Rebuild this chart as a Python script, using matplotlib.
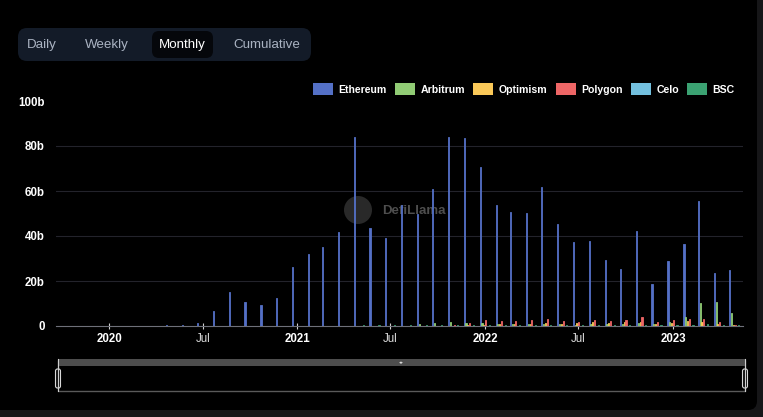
import matplotlib
matplotlib.use("Agg")
import matplotlib.pyplot as plt
import matplotlib.dates as mdates
from matplotlib.patches import FancyBboxPatch, Rectangle, Circle
import numpy as np
import datetime as dt

plt.rcParams['font.family'] = ['Liberation Sans', 'DejaVu Sans']

# ---------------- data (billions USD, monthly) ----------------
months = ["2019-10", "2019-11", "2019-12",
          "2020-01", "2020-02", "2020-03", "2020-04", "2020-05", "2020-06",
          "2020-07", "2020-08", "2020-09", "2020-10", "2020-11", "2020-12",
          "2021-01", "2021-02", "2021-03", "2021-04", "2021-05", "2021-06",
          "2021-07", "2021-08", "2021-09", "2021-10", "2021-11", "2021-12",
          "2022-01", "2022-02", "2022-03", "2022-04", "2022-05", "2022-06",
          "2022-07", "2022-08", "2022-09", "2022-10", "2022-11", "2022-12",
          "2023-01", "2023-02", "2023-03", "2023-04", "2023-05"]

ethereum = [0.05, 0.05, 0.06,
            0.08, 0.10, 0.12, 0.15, 0.30, 0.50,
            1.3, 6.6, 15.0, 10.8, 9.3, 12.3,
            26.1, 31.9, 35.1, 41.6, 83.9, 43.4,
            39.0, 53.8, 50.0, 60.9, 83.9, 83.7,
            70.5, 53.8, 50.8, 50.4, 61.6, 45.3,
            37.2, 37.9, 29.3, 25.2, 42.1, 18.5,
            29.0, 36.3, 55.6, 23.6, 24.9]

arbitrum = [0, 0, 0,
            0, 0, 0, 0, 0, 0,
            0, 0, 0, 0, 0, 0,
            0, 0, 0, 0, 0, 0,
            0, 0.1, 0.8, 1.2, 2.0, 1.5,
            1.3, 1.0, 0.9, 0.8, 0.9, 0.7,
            0.6, 0.8, 0.7, 0.7, 1.5, 0.9,
            1.9, 4.0, 10.3, 10.6, 5.6]

optimism = [0, 0, 0,
            0, 0, 0, 0, 0, 0,
            0, 0, 0, 0, 0, 0,
            0, 0, 0, 0, 0, 0,
            0, 0, 0, 0.1, 0.2, 0.3,
            0.5, 0.8, 0.8, 1.0, 1.2, 1.0,
            1.3, 1.6, 1.4, 1.8, 1.9, 1.0,
            1.4, 2.2, 1.7, 0.9, 0.5]

polygon = [0, 0, 0,
           0, 0, 0, 0, 0, 0,
           0, 0, 0, 0, 0, 0,
           0, 0, 0, 0, 0, 0,
           0, 0, 0, 0.2, 0.4, 1.5,
           2.6, 2.4, 2.2, 2.5, 2.9, 2.4,
           2.0, 2.5, 2.3, 2.6, 4.1, 1.6,
           2.5, 3.2, 3.0, 1.8, 0.6]

celo = [0, 0, 0,
        0, 0, 0, 0, 0, 0,
        0, 0, 0, 0, 0, 0,
        0, 0, 0, 0, 0, 0.05,
        0.05, 0.05, 0.1, 0.1, 0.1, 0.1,
        0.1, 0.1, 0.1, 0.1, 0.1, 0.1,
        0.1, 0.1, 0.1, 0.1, 0.1, 0.1,
        0.1, 0.1, 0.1, 0.1, 0.05]

bsc = [0, 0, 0,
       0, 0, 0, 0, 0, 0,
       0, 0, 0, 0, 0, 0,
       0, 0, 0, 0.2, 0.5, 0.3,
       0.3, 0.3, 0.4, 0.4, 0.5, 0.5,
       0.5, 0.4, 0.4, 0.4, 0.5, 0.4,
       0.4, 0.5, 0.4, 0.4, 0.6, 0.4,
       0.5, 0.6, 0.7, 0.5, 0.3]

series_names = ["Ethereum", "Arbitrum", "Optimism", "Polygon", "Celo", "BSC"]
series_values = [ethereum, arbitrum, optimism, polygon, celo, bsc]
colors = ["#5470c6", "#91cc75", "#fac858", "#ee6666", "#73c0de", "#3ba272"]

y_ticks = [0, 20, 40, 60, 80, 100]
y_tick_labels = ["0", "20b", "40b", "60b", "80b", "100b"]
x_tick_dates = ["2020-01-01", "2020-07-01", "2021-01-01", "2021-07-01",
                "2022-01-01", "2022-07-01", "2023-01-01"]
x_tick_labels = ["2020", "Jul", "2021", "Jul", "2022", "Jul", "2023"]
buttons = ["Daily", "Weekly", "Monthly", "Cumulative"]

# ---------------- figure ----------------
W, H = 763, 417
fig = plt.figure(figsize=(W / 100, H / 100), dpi=100)
fig.patch.set_facecolor("#161618")

# overlay in pixel coordinates for page furniture
ov = fig.add_axes([0, 0, 1, 1], zorder=0)
ov.set_xlim(0, W)
ov.set_ylim(H, 0)
ov.axis("off")
ov.add_patch(FancyBboxPatch((-20, -20), 777, 430, boxstyle="round,pad=0,rounding_size=9",
                            fc="#000000", ec="none"))

# button bar
ov.add_patch(FancyBboxPatch((18, 28), 293, 33, boxstyle="round,pad=0,rounding_size=9",
                            fc="#131b28", ec="none"))
ov.add_patch(FancyBboxPatch((152, 31), 61, 27, boxstyle="round,pad=0,rounding_size=7",
                            fc="#05070b", ec="none"))
btn_x = [42, 107, 182, 267]
for bx, name in zip(btn_x, buttons):
    sel = name == "Monthly"
    ov.text(bx, 45, name, ha="center", va="center", fontsize=9.6,
            color="#ffffff" if sel else "#aab3c2", fontweight="normal")

# watermark
ov.add_patch(Circle((358, 210), 14, fc="#2e2e2e", ec="none", alpha=0.9))
ov.text(382, 211, "DefiLlama", ha="left", va="center", fontsize=9.5,
        color="#4e4e4e", fontweight="bold")

# slider
ov.add_patch(Rectangle((58, 360), 687, 31, fc="none", ec="#5a5a5a", lw=1.0))
ov.add_patch(Rectangle((58, 359), 687, 7, fc="#4d4d4d", ec="none"))
ov.plot([58, 58], [359, 391], color="#cfcfcf", lw=0.8)
ov.plot([745, 745], [359, 391], color="#cfcfcf", lw=0.8)
for hx in (58, 745):
    ov.add_patch(FancyBboxPatch((hx - 2.5, 369), 5, 19, boxstyle="round,pad=0,rounding_size=2",
                                fc="#111111", ec="#d8d8d8", lw=0.8))
ov.text(401, 362.5, "◂▸", ha="center", va="center", fontsize=3.5, color="#dddddd")

# ---------------- chart ----------------
ax = fig.add_axes([56 / W, (H - 326) / H, 687 / W, 225 / H], zorder=2)
ax.set_facecolor("none")

x0 = mdates.date2num([dt.datetime.strptime(m, "%Y-%m") for m in months])
pitch = 3.5
width = 2.2
for i, (name, vals, c) in enumerate(zip(series_names, series_values, colors)):
    ax.bar(x0 + (i - 2.5) * pitch - 1.0, vals, width=width, color=c, label=name,
           edgecolor=c, linewidth=0.6, zorder=3)

ax.set_xlim(mdates.date2num(dt.datetime(2019, 9, 20)), mdates.date2num(dt.datetime(2023, 5, 17)))
ax.set_ylim(0, 100)

ax.set_yticks(y_ticks)
ax.set_yticklabels(y_tick_labels)
ax.tick_params(axis="y", length=0, pad=8, labelsize=8.3, labelcolor="#ffffff")
for lab in ax.get_yticklabels():
    lab.set_fontweight("bold")
for yv in y_ticks[1:5]:
    ax.axhline(yv, color="#23232b", lw=0.8, zorder=1)

xt = mdates.date2num([dt.datetime.strptime(d, "%Y-%m-%d") for d in x_tick_dates])
ax.set_xticks(xt)
ax.set_xticklabels(x_tick_labels)
ax.tick_params(axis="x", length=4, width=0.8, color="#cfcfcf", pad=3, labelsize=8.3,
               labelcolor="#ffffff", direction="inout")
for lab in ax.get_xticklabels():
    if lab.get_text() == "Jul":
        lab.set_fontweight("normal")
        lab.set_color("#dcdcdc")
    else:
        lab.set_fontweight("bold")

for s in ["top", "right", "left"]:
    ax.spines[s].set_visible(False)
ax.spines["bottom"].set_color("#6e7079")
ax.spines["bottom"].set_linewidth(0.8)

leg = ax.legend(loc="upper right", bbox_to_anchor=(740 / W, (H - 78) / H),
                bbox_transform=fig.transFigure, ncol=6, frameon=False,
                fontsize=7.6, labelcolor="#ffffff", handlelength=1.9, handleheight=1.3,
                handletextpad=0.5, columnspacing=0.8, borderpad=0, fancybox=True)
for t in leg.get_texts():
    t.set_fontweight("bold")
for h in leg.legend_handles:
    h.set_linewidth(0)

fig.savefig("out.png", dpi=100, facecolor=fig.get_facecolor())
